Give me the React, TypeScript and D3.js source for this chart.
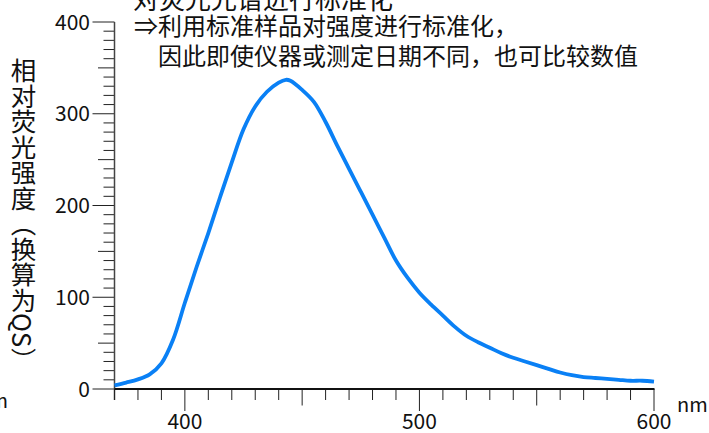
import React from "react";
import * as d3 from "d3";

// wavelength (nm) / relative fluorescence intensity (QS equivalent)
const wavelengths = [370, 375, 380, 385, 390, 395, 400, 405, 410, 415, 420, 425, 430, 435, 440, 443, 445, 450, 455, 460, 465, 470, 475, 480, 485, 490, 495, 500, 505, 510, 515, 520, 525, 530, 535, 540, 545, 550, 555, 560, 565, 570, 575, 580, 585, 590, 595, 600];
const intensity = [4, 7, 10.5, 16, 28, 54, 94, 133, 170, 209, 247, 283, 308, 324, 334, 337, 336, 326, 313, 291, 265, 240, 215, 190, 165, 140, 121, 105, 92, 80, 68, 58, 51, 45, 39, 34, 30, 26, 22, 18, 15, 13, 12, 11, 10, 9, 9, 8];

const yTickLabels = [0, 100, 200, 300, 400];
const xTickLabels = [400, 500, 600];

const yTitle = "相对荧光强度（换算为QS）";
const noteLines = ["对荧光光谱进行标准化", "⇒利用标准样品对强度进行标准化，", "因此即使仪器或测定日期不同，也可比较数值"];

const W = 709;
const H = 433;
const font = "'Noto Sans CJK SC', 'Noto Sans', sans-serif";

export default function App() {
  const x = d3.scaleLinear().domain([370, 600]).range([114.5, 654]);
  const y = d3.scaleLinear().domain([0, 400]).range([389, 22]);

  const pts = wavelengths.map((w, i) => ({ w, v: intensity[i] }));
  const path = d3
    .line<{ w: number; v: number }>()
    .x(d => x(d.w))
    .y(d => y(d.v))
    .curve(d3.curveCatmullRom.alpha(0.5))(pts);

  // tick lengths: every 10 short, every 50 medium, every 100 long
  const tickLen = (v: number) => (v % 100 === 0 ? 22 : v % 50 === 0 ? 16.5 : 11);
  const yMinor = d3.range(0, 401, 10);
  const xMinor = d3.range(370, 601, 10);

  return (
    <svg width={W} height={H} style={{ position: "absolute", left: 0, top: 0 }} fontFamily={font}>
      <rect width={W} height={H} fill="#fff" />

      {/* y axis */}
      {yMinor.map(v => (
        <line key={"yt" + v} x1={114.5 - tickLen(v)} x2={114.5} y1={y(v)} y2={y(v)} stroke="#222" strokeWidth={1} />
      ))}
      <line x1={114.5} x2={114.5} y1={y(400)} y2={y(0) + 11} stroke="#444" strokeWidth={1.5} />
      {yTickLabels.map(v => (
        <text key={"yl" + v} x={90} y={y(v)} dy="0.36em" textAnchor="end" fontSize={21} fill="#111">
          {v}
        </text>
      ))}

      {/* x axis */}
      {xMinor.map(v => (
        <line key={"xt" + v} x1={x(v)} x2={x(v)} y1={389} y2={389 + (v === 370 ? 11 : tickLen(v))} stroke="#222" strokeWidth={1} />
      ))}
      <line x1={114.5} x2={654.5} y1={389} y2={389} stroke="#111" strokeWidth={2} />
      {xTickLabels.map(v => (
        <text key={"xl" + v} x={x(v)} y={429} textAnchor="middle" fontSize={21} fill="#111">
          {v}
        </text>
      ))}
      <text x={677} y={412} fontSize={20} fill="#111">nm</text>
      <text x={8} y={408} textAnchor="end" fontSize={20} fill="#111">nm</text>

      {/* spectrum */}
      <path d={path ?? ""} fill="none" stroke="#0a80f5" strokeWidth={3.8} strokeLinejoin="round" />

      {/* y title, vertical */}
      <text x={23.5} y={58} fontSize={25.5} fill="#111" style={{ writingMode: "vertical-rl" }}>
        {yTitle}
      </text>

      {/* notes */}
      <text x={133} y={8.5} fontSize={26} fill="#111">{noteLines[0]}</text>
      <text x={134} y={35} fontSize={24} fill="#111">{noteLines[1]}</text>
      <text x={158} y={65} fontSize={24} fill="#111">{noteLines[2]}</text>
    </svg>
  );
}
